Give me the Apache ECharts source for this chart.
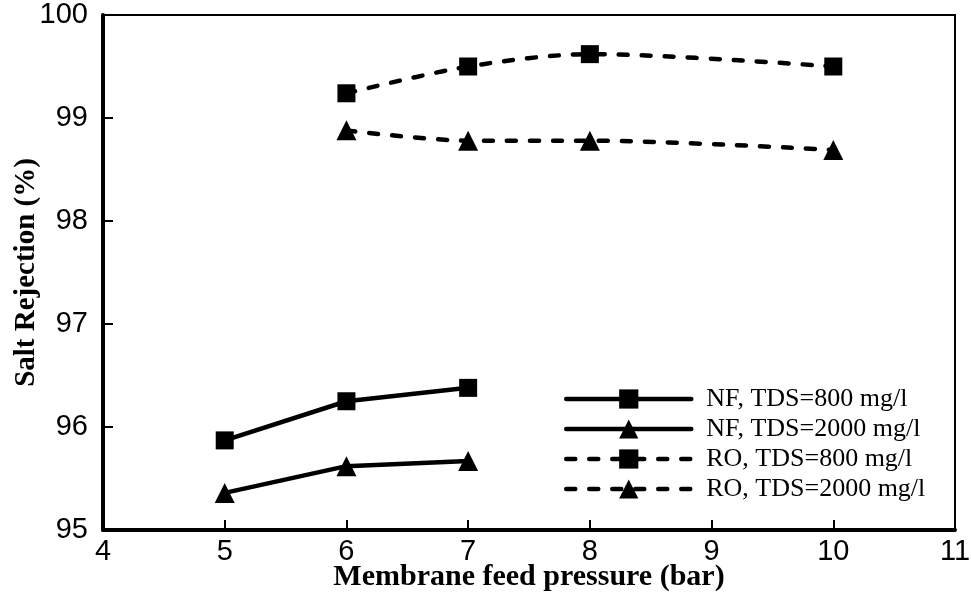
<!DOCTYPE html>
<html><head><meta charset="utf-8">
<script src="https://cdn.jsdelivr.net/npm/echarts@6/dist/echarts.min.js"></script>
<style>html,body{margin:0;padding:0;background:#fff}#c{width:971px;height:598px}</style>
</head><body><div id="c"></div>
<script>
const seriesNames = ['NF, TDS=800 mg/l','NF, TDS=2000 mg/l','RO, TDS=800 mg/l','RO, TDS=2000 mg/l'];
const nfX = [5,6,7];
const roX = [6,7,8,10];
const nf800 = [95.87,96.25,96.38];
const nf2000 = [95.36,95.62,95.67];
const ro800 = [99.24,99.50,99.62,99.50];
const ro2000 = [98.88,98.78,98.78,98.69];
const xTicks = [4,5,6,7,8,9,10,11];
const yTicks = [95,96,97,98,99,100];

const pair = (xs, ys) => xs.map((x,i)=>[x,ys[i]]);
const chart = echarts.init(document.getElementById('c'));
const mk = (name, xs, ys, sym, size, type, smooth) => ({
  name, type:'line', data: pair(xs, ys), symbol: sym, symbolSize: size, smooth: smooth,
  itemStyle:{color:'#000'},
  lineStyle:{color:'#000', width:4.5, type: type==='dashed'?[9,14]:'solid', cap:'round'},
  emphasis:{disabled:true}
});
chart.setOption({
  animation:false,
  grid:{left:103, right:16, top:15, bottom:68, show:true, borderColor:'#000', borderWidth:2,
        containLabel:false, outerBoundsMode:'none'},
  legend:{
    left:559, top:381, orient:'vertical', itemWidth:125, itemHeight:24, itemGap:4,
    lineStyle:{width:4.5},
    textStyle:{fontFamily:'Liberation Serif', fontSize:26, color:'#000', padding:[0,0,0,10]},
    data: seriesNames.map(n=>({name:n}))
  },
  xAxis:{
    type:'value', min:4, max:11, interval:1,
    name:'Membrane feed pressure (bar)', nameLocation:'middle', nameGap:32, nameMoveOverlap:false,
    nameTextStyle:{fontFamily:'Liberation Serif', fontWeight:'bold', fontSize:30, color:'#000'},
    axisLine:{show:true, lineStyle:{color:'#000', width:4}},
    axisTick:{show:true, inside:true, length:10, lineStyle:{color:'#000', width:2}},
    axisLabel:{fontFamily:'Liberation Sans', fontSize:29, color:'#000', margin:7},
    splitLine:{show:false}
  },
  yAxis:{
    type:'value', min:95, max:100, interval:1,
    name:'Salt Rejection (%)', nameLocation:'middle', nameGap:62, nameRotate:90, nameMoveOverlap:false,
    nameTextStyle:{fontFamily:'Liberation Serif', fontWeight:'bold', fontSize:29, color:'#000'},
    axisLine:{show:true, lineStyle:{color:'#000', width:4}},
    axisTick:{show:true, inside:true, length:10, lineStyle:{color:'#000', width:2}},
    axisLabel:{fontFamily:'Liberation Sans', fontSize:29, color:'#000', margin:15},
    splitLine:{show:false}
  },
  series:[
    mk(seriesNames[0], nfX, nf800, 'rect', 18, 'solid', false),
    mk(seriesNames[1], nfX, nf2000, 'triangle', 20, 'solid', false),
    mk(seriesNames[2], roX, ro800, 'rect', 18, 'dashed', 0.3),
    mk(seriesNames[3], roX, ro2000, 'triangle', 20, 'dashed', 0.3)
  ]
});
</script></body></html>
